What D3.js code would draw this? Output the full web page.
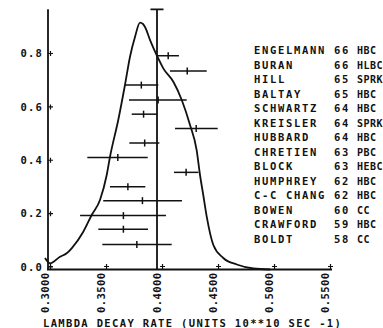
<!DOCTYPE html>
<html><head><meta charset="utf-8">
<script src="https://cdn.jsdelivr.net/npm/d3@7"></script>
<style>
body{margin:0;background:#fff}
svg{display:block}
text{font-family:"DejaVu Sans Mono",monospace;font-weight:bold;fill:#111}
</style>
</head><body><svg id="c" width="383" height="328"></svg>
<script>
// ---- data ----
const experiments = ["ENGELMANN","BURAN","HILL","BALTAY","SCHWARTZ","KREISLER","HUBBARD","CHRETIEN","BLOCK","HUMPHREY","C-C CHANG","BOWEN","CRAWFORD","BOLDT"];
const years = ["66","66","65","65","64","64","64","63","63","62","62","60","59","58"];
const methods = ["HBC","HLBC","SPRK","HBC","HBC","SPRK","HBC","PBC","HEBC","HBC","HBC","CC","HBC","CC"];
const rates = [0.410,0.427,0.386,0.401,0.388,0.435,0.389,0.365,0.426,0.374,0.387,0.370,0.370,0.382];
const rateLo = [0.3997,0.4116,0.3714,0.3750,0.3774,0.4161,0.3753,0.3378,0.4152,0.3580,0.3520,0.3313,0.3476,0.3512];
const rateHi = [0.4196,0.4444,0.4012,0.4265,0.4003,0.4542,0.4021,0.3917,0.4370,0.3896,0.4223,0.4080,0.3920,0.4131];
const rowLevels = [0.801,0.744,0.691,0.635,0.582,0.528,0.474,0.420,0.364,0.310,0.258,0.202,0.151,0.094];
const curveX = [0.3000,0.3045,0.3134,0.3194,0.3238,0.3342,0.3417,0.3491,0.3551,0.3580,0.3654,0.3714,0.3759,0.3804,0.3848,0.3875,0.3893,0.3938,0.3997,0.4056,0.4146,0.4221,0.4295,0.4354,0.4384,0.4413,0.4444,0.4503,0.4592,0.4712,0.4860,0.5010];
const curveY = [0.0431,0.0232,0.0480,0.0607,0.0794,0.1416,0.2042,0.2604,0.3541,0.4215,0.5601,0.6913,0.7973,0.8722,0.9247,0.9198,0.9086,0.8598,0.8036,0.7538,0.7036,0.6351,0.5414,0.4477,0.3541,0.2792,0.1978,0.0918,0.0431,0.0187,0.0037,0.0000];
const xTicks = [0.30,0.35,0.40,0.45,0.50,0.55];
const xTickLabels = ["0.3000","0.3500","0.4000","0.4500","0.5000","0.5500"];
const yTicks = [0.0,0.2,0.4,0.6,0.8];
const yTickLabels = ["0.0","0.2","0.4","0.6","0.8"];
const refRate = 0.40;
const yTop = 0.975;
const xTitle = "LAMBDA DECAY RATE (UNITS 10**10 SEC -1)";

// ---- scales ----
const x = d3.scaleLinear().domain([0.30,0.55]).range([45,325]);
const y = d3.scaleLinear().domain([0,0.8]).range([269.5,56]);
const svg = d3.select("#c");
const ink = "#111";

// axes lines
svg.append("line").attr("x1",48).attr("x2",48).attr("y1",y(yTop)).attr("y2",y(0))
  .attr("stroke",ink).attr("stroke-width",1.8);
svg.append("line").attr("x1",47).attr("x2",x(0.55)+7).attr("y1",y(0)).attr("y2",y(0))
  .attr("stroke",ink).attr("stroke-width",1.8);

function plus(g,cx,cy){
  g.append("path").attr("d",`M${cx-2.5},${cy}H${cx+2.5}M${cx},${cy-2.5}V${cy+2.5}`)
   .attr("stroke",ink).attr("stroke-width",1.2).attr("fill","none");
}
// y ticks
const gy = svg.append("g");
yTicks.forEach((v,i)=>{
  plus(gy,50.5,y(v)-2.5);
  gy.append("text").attr("x",43).attr("y",y(v)-2.5).attr("dy","0.36em")
    .attr("text-anchor","end").attr("font-size",10.5).style("letter-spacing","1.2px")
    .text(yTickLabels[i]);
});
// x ticks
const gx = svg.append("g");
xTicks.forEach((v,i)=>{
  plus(gx,x(v)+5.5,y(0)-3);
  gx.append("text").attr("transform",`translate(${x(v)},313) rotate(-90)`)
    .attr("dy","0.36em").attr("text-anchor","start").attr("font-size",10.5)
    .style("letter-spacing","0.45px").text(xTickLabels[i]);
});
// x title
svg.append("text").attr("x",43).attr("y",327).attr("font-size",10.5)
  .style("letter-spacing","1.35px").text(xTitle);

// reference vertical line with cap
svg.append("path").attr("d",`M${x(refRate)},${y(0)}V${y(yTop)}M${x(refRate)-6.5},${y(yTop)}H${x(refRate)+6.5}`)
  .attr("stroke",ink).attr("stroke-width",1.8).attr("fill","none");

// curve
const line = d3.line().x((d,i)=>x(curveX[i])).y((d,i)=>y(curveY[i])).curve(d3.curveMonotoneX);
svg.append("path").datum(curveX).attr("d",line).attr("fill","none")
  .attr("stroke",ink).attr("stroke-width",1.8);

// error bars
const gb = svg.append("g").attr("stroke",ink).attr("fill","none");
rates.forEach((r,i)=>{
  const yy = y(rowLevels[i]);
  gb.append("line").attr("x1",x(rateLo[i])).attr("x2",x(rateHi[i])).attr("y1",yy).attr("y2",yy).attr("stroke-width",1.5);
  gb.append("line").attr("x1",x(r)).attr("x2",x(r)).attr("y1",yy-3.5).attr("y2",yy+3.5).attr("stroke-width",1.5);
});

// legend
const ly = d3.scaleLinear().domain([0,13]).range([50.7,239]);
const gl = svg.append("g").attr("font-size",10.5).style("letter-spacing","1.68px");
experiments.forEach((n,i)=>{
  const yy = ly(i);
  gl.append("text").attr("x",254).attr("y",yy).attr("dy","0.36em").text(n);
  gl.append("text").attr("x",334).attr("y",yy).attr("dy","0.36em").text(years[i]);
  gl.append("text").attr("x",357).attr("y",yy).attr("dy","0.36em")
    .attr("font-size",10).style("letter-spacing","0.5px").text(methods[i]);
});
</script>
</body></html>
